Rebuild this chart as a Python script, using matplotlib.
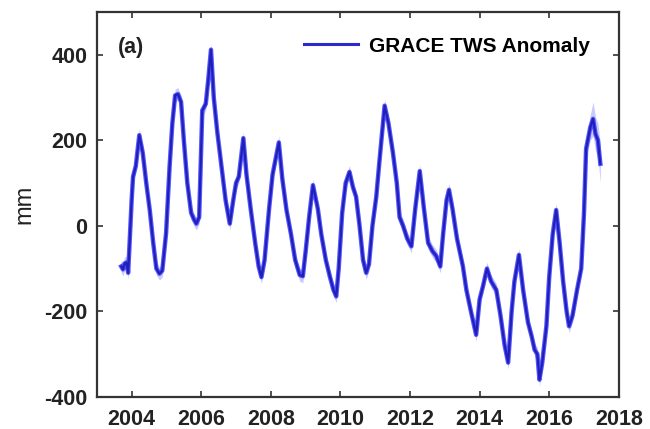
import matplotlib.pyplot as plt
import numpy as np

# GRACE TWS anomaly (mm), decimal year
years = [2003.70, 2003.75, 2003.80, 2003.85, 2003.90, 2004.00, 2004.04, 2004.12, 2004.22, 2004.32,
         2004.42, 2004.52, 2004.62, 2004.71, 2004.80, 2004.88, 2004.99, 2005.09, 2005.17, 2005.25,
         2005.33, 2005.42, 2005.50, 2005.60, 2005.71, 2005.79, 2005.86, 2005.94, 2006.03, 2006.13,
         2006.20, 2006.28, 2006.36, 2006.46, 2006.58, 2006.70, 2006.82, 2006.92, 2007.00, 2007.08,
         2007.21, 2007.30, 2007.42, 2007.55, 2007.65, 2007.73, 2007.82, 2007.95, 2008.05, 2008.23,
         2008.33, 2008.45, 2008.58, 2008.70, 2008.83, 2008.92, 2009.00, 2009.10, 2009.21, 2009.35,
         2009.45, 2009.58, 2009.70, 2009.80, 2009.88, 2009.95, 2010.05, 2010.15, 2010.26, 2010.36,
         2010.45, 2010.55, 2010.65, 2010.74, 2010.82, 2010.92, 2011.03, 2011.12, 2011.27, 2011.38,
         2011.51, 2011.62, 2011.70, 2011.80, 2011.92, 2012.04, 2012.15, 2012.28, 2012.40, 2012.52,
         2012.65, 2012.75, 2012.87, 2012.95, 2013.05, 2013.12, 2013.22, 2013.35, 2013.52, 2013.62,
         2013.75, 2013.90, 2014.00, 2014.10, 2014.21, 2014.33, 2014.48, 2014.60, 2014.72, 2014.82,
         2014.92, 2015.00, 2015.13, 2015.25, 2015.39, 2015.50, 2015.58, 2015.66, 2015.72, 2015.80,
         2015.92, 2016.00, 2016.10, 2016.20, 2016.30, 2016.40, 2016.50, 2016.57, 2016.67, 2016.80,
         2016.92, 2017.00, 2017.06, 2017.18, 2017.26, 2017.33, 2017.40, 2017.47]
tws = [-95, -102, -88, -86, -110, 60, 115, 140, 212, 170,
       100, 37, -40, -100, -112, -105, -17, 138, 240, 305,
       308, 290, 200, 100, 30, 15, 5, 20, 270, 285,
       340, 412, 300, 220, 140, 60, 5, 60, 100, 115,
       205, 120, 40, -40, -95, -120, -80, 40, 120, 195,
       110, 37, -20, -80, -115, -118, -60, 20, 95, 40,
       -20, -80, -120, -150, -165, -100, 30, 100, 126, 90,
       68, 0, -80, -110, -90, 0, 68, 150, 281, 240,
       170, 100, 20, 0, -30, -48, 40, 128, 40, -40,
       -60, -70, -95, -20, 60, 84, 40, -30, -95, -150,
       -200, -255, -172, -140, -100, -130, -150, -210, -280, -320,
       -200, -130, -68, -150, -226, -260, -290, -300, -360, -320,
       -234, -120, -20, 37, -40, -130, -200, -235, -210, -150,
       -100, 30, 180, 230, 250, 215, 200, 145]
# 1-sigma uncertainty (mm)
err = [15] * (len(tws) - 6) + [20, 30, 40, 40, 40, 45]

yticks = [-400, -200, 0, 200, 400]
xticks = [2004, 2006, 2008, 2010, 2012, 2014, 2016, 2018]

plt.rcParams['font.family'] = ['Liberation Sans', 'DejaVu Sans']
plt.rcParams['axes.unicode_minus'] = False

fig = plt.figure(figsize=(6.5, 4.29), dpi=100)
ax = fig.add_axes([0.149, 0.075, 0.803, 0.897])

t = np.array(years)
v = np.array(tws)
e = np.array(err)
ax.fill_between(t, v - e, v + e, color='#a8a8ff', alpha=0.6, lw=0)
ax.plot(t, v, color='#3838ff', lw=3.2, alpha=0.85, solid_joinstyle='round')
ax.plot(t, v, color='#2020b8', lw=1.6, solid_joinstyle='round')
# legend proxy
ax.plot([], [], color='#2a2ad0', lw=2.2, label='GRACE TWS Anomaly')

ax.set_xlim(2003, 2018)
ax.set_ylim(-400, 500)
ax.set_xticks(xticks)
ax.set_yticks(yticks)
ax.tick_params(direction='in', length=4, width=1.2, top=True, right=True,
               labelsize=15.5, color='#333333', pad=7)
ax.tick_params(axis='x', pad=9)
for lbl in ax.get_xticklabels() + ax.get_yticklabels():
    lbl.set_fontweight('bold')
    lbl.set_color('#222222')
for s in ax.spines.values():
    s.set_linewidth(1.6)
    s.set_color('#333333')

ax.set_ylabel('mm', fontsize=17, labelpad=6, color='#222222')
ax.text(0.04, 0.909, '(a)', transform=ax.transAxes, fontsize=15.5,
        fontweight='bold', color='#222222', va='center')
ax.legend(loc='upper right', bbox_to_anchor=(0.96, 0.958), frameon=False,
          handlelength=2.6, handletextpad=0.5, borderaxespad=0,
          prop={'weight': 'bold', 'size': 15})

fig.savefig('out.png', dpi=100)
